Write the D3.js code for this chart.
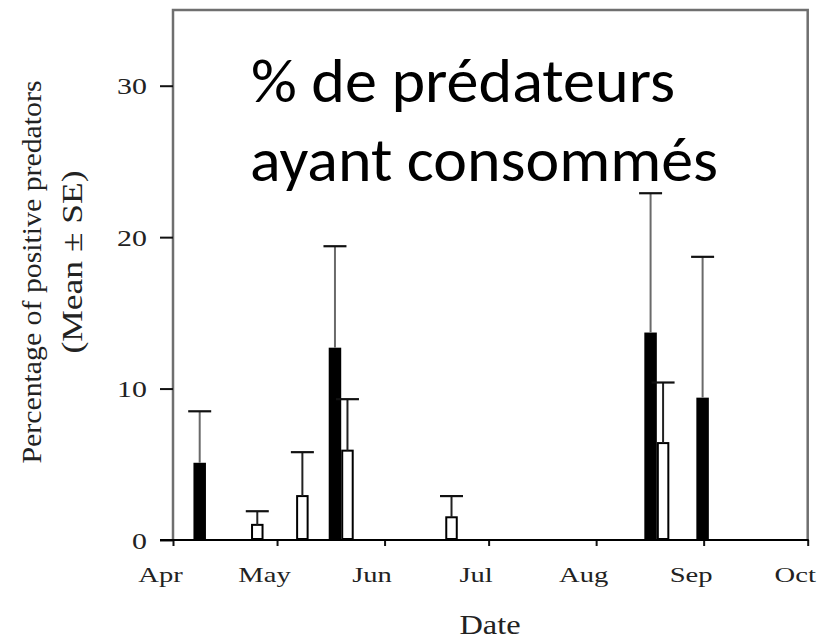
<!DOCTYPE html>
<html>
<head>
<meta charset="utf-8">
<script src="https://cdn.jsdelivr.net/npm/d3@7"></script>
<style>
  html, body { margin: 0; padding: 0; background: #fff; }
  svg { display: block; }
</style>
</head>
<body>
<svg id="chart" width="832" height="638"></svg>
<script>
// ---- data ----
const sampleDates = ["2008-04-10T12:00","2008-04-23T12:00","2008-05-06T12:00","2008-05-19T12:00","2008-06-18T12:00","2008-08-18T12:00","2008-09-02T12:00"];
const blackMean = [5.1, null, null, 12.7, null, 13.7, 9.4];
const blackSE   = [3.4, null, null, 6.7, null, 9.2, 9.3];
const whiteMean = [null, 1.0, 2.9, 5.9, 1.5, 6.4, null];
const whiteSE   = [null, 0.9, 2.9, 3.4, 1.4, 4.0, null];
const yTicks = [0, 10, 20, 30];
const monthTicks = ["2008-04-01","2008-05-01","2008-06-01","2008-07-01","2008-08-01","2008-09-01","2008-10-01"];
const monthLabels = ["Apr","May","Jun","Jul","Aug","Sep","Oct"];
const yTitle1 = "Percentage of positive predators";
const yTitle2 = "(Mean \u00B1 SE)";
const xTitle = "Date";
const overlay1 = "% de prédateurs";
const overlay2 = "ayant consommés";

// ---- layout ----
const L = 173, R = 807.7, T = 10, B = 540;
const barW = 12.5;
const capHalf = 11.5;

const parseT = d3.utcParse("%Y-%m-%dT%H:%M");
const parseD = d3.utcParse("%Y-%m-%d");
const svg = d3.select("#chart");
svg.append("rect").attr("width", 832).attr("height", 638).attr("fill", "#fff");

const x = d3.scaleUtc().domain([parseD(monthTicks[0]), parseD(monthTicks[monthTicks.length - 1])]).range([L, R]);
const y = d3.scaleLinear().domain([0, 35]).range([B, T]);

const rows = sampleDates.map((d, i) => ({
  date: parseT(d), bm: blackMean[i], bs: blackSE[i], wm: whiteMean[i], ws: whiteSE[i]
}));

// frame (top, right, left) in grey
svg.append("path")
  .attr("d", `M${L},${B} L${L},${T} L${R},${T} L${R},${B}`)
  .attr("fill", "none").attr("stroke", "#6f6f6f").attr("stroke-width", 2.5);

const serif = "'Liberation Serif', 'Times New Roman', serif";

// y axis
const yAxis = svg.append("g").attr("transform", `translate(${L},0)`)
  .call(d3.axisLeft(y).tickValues(yTicks).tickSize(13).tickFormat(d3.format("d")));
yAxis.select(".domain").remove();
yAxis.selectAll(".tick line").attr("stroke", "#111").attr("stroke-width", 2);
yAxis.selectAll(".tick text")
  .attr("x", 0).attr("dy", "0.35em")
  .attr("transform", "translate(-26,0) scale(1.3,1)")
  .attr("text-anchor", "end")
  .attr("fill", "#222")
  .style("font-family", serif)
  .style("font-size", "23px");

// x axis
const monthDates = monthTicks.map(parseD);
const xAxis = svg.append("g").attr("transform", `translate(0,${B})`)
  .call(d3.axisBottom(x).tickValues(monthDates).tickSize(6)
    .tickFormat((d, i) => monthLabels[i]));
xAxis.select(".domain").remove();
xAxis.selectAll(".tick line").attr("stroke", "#111").attr("stroke-width", 2);
xAxis.selectAll(".tick text")
  .attr("y", 0).attr("dy", null)
  .attr("transform", "translate(-13,42) scale(1.3,1)")
  .attr("fill", "#222")
  .style("font-family", serif)
  .style("font-size", "22px");

// bars
const g = svg.append("g");
rows.filter(r => r.bm != null).forEach(r => {
  const xc = x(r.date);
  g.append("rect")
    .attr("x", xc - barW).attr("width", barW)
    .attr("y", y(r.bm)).attr("height", B - y(r.bm))
    .attr("fill", "#000");
});
rows.filter(r => r.wm != null).forEach(r => {
  const xc = x(r.date);
  g.append("rect")
    .attr("x", xc + 1).attr("width", barW - 2)
    .attr("y", y(r.wm)).attr("height", B - y(r.wm) - 1)
    .attr("fill", "#fff").attr("stroke", "#000").attr("stroke-width", 2);
});

// error bars
function errBar(cx, m, s, lineColor) {
  g.append("line").attr("x1", cx).attr("x2", cx)
    .attr("y1", y(m)).attr("y2", y(m + s))
    .attr("stroke", lineColor).attr("stroke-width", 2);
  g.append("line").attr("x1", cx - capHalf).attr("x2", cx + capHalf)
    .attr("y1", y(m + s)).attr("y2", y(m + s))
    .attr("stroke", "#111").attr("stroke-width", 2.2);
}
rows.forEach(r => {
  const xc = x(r.date);
  if (r.bm != null) errBar(xc - barW / 2, r.bm, r.bs, "#6a6a6a");
  if (r.wm != null) errBar(xc + barW / 2, r.wm, r.ws, "#222");
});

// bottom axis line (black)
svg.append("line").attr("x1", L - 13).attr("x2", R + 1).attr("y1", B).attr("y2", B)
  .attr("stroke", "#000").attr("stroke-width", 2);

// axis titles
svg.append("text")
  .attr("transform", "translate(41,272) rotate(-90)")
  .attr("text-anchor", "middle")
  .attr("textLength", 383).attr("lengthAdjust", "spacingAndGlyphs")
  .style("font-family", serif).style("font-size", "27px").attr("fill", "#222")
  .text(yTitle1);
svg.append("text")
  .attr("transform", "translate(82,262) rotate(-90)")
  .attr("text-anchor", "middle")
  .attr("textLength", 183).attr("lengthAdjust", "spacingAndGlyphs")
  .style("font-family", serif).style("font-size", "30px").attr("fill", "#222")
  .text(yTitle2);
svg.append("text")
  .attr("transform", "translate(490,634) scale(1.2,1)")
  .attr("text-anchor", "middle")
  .style("font-family", serif).style("font-size", "27px").attr("fill", "#222")
  .text(xTitle);

// overlay annotation
const sans = "Calibri, Carlito, Lato, 'Open Sans', sans-serif";
svg.append("text")
  .attr("x", 251).attr("y", 102)
  .attr("textLength", 424).attr("lengthAdjust", "spacingAndGlyphs")
  .style("font-family", sans).style("font-size", "62px").attr("fill", "#000")
  .text(overlay1);
svg.append("text")
  .attr("x", 250).attr("y", 181)
  .attr("textLength", 468).attr("lengthAdjust", "spacingAndGlyphs")
  .style("font-family", sans).style("font-size", "62px").attr("fill", "#000")
  .text(overlay2);
</script>
</body>
</html>
